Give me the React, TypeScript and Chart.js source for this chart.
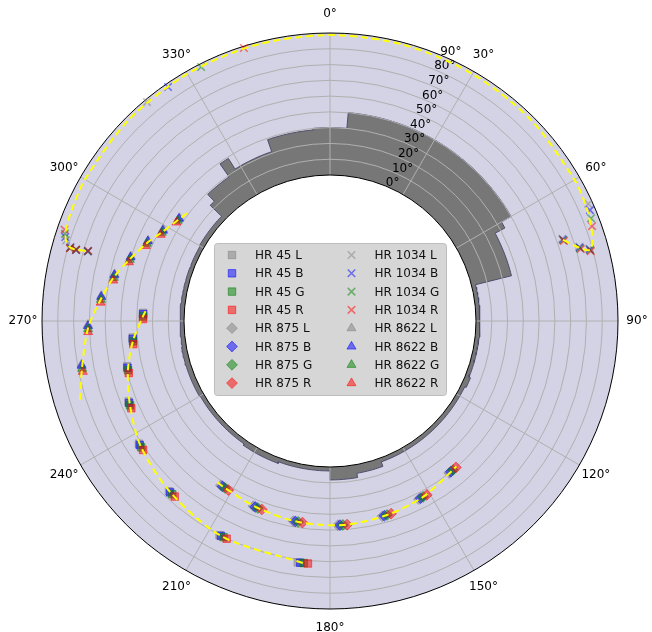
import React, { useEffect, useRef } from 'react';
import { Chart, registerables } from 'chart.js';
import { drawPoint } from 'chart.js/helpers';
Chart.register(...registerables);

// ---------------- data ----------------
// horizon profile histogram: azimuth bin edges (deg) and altitude heights (deg)
const horizonEdges = [0, 5, 60, 62, 76, 112, 116, 160, 170, 180, 200, 215, 240, 260, 300, 314, 316, 325, 328, 341, 355, 360];
const horizonAlt = [30, 40, 33, 26, 2.5, 3.5, 2.5, 5.5, 8.2, 2.5, 3.5, 2.5, 3, 2.5, 3, 13, 19, 29, 21, 29, 30];

const angleTicks = [0, 30, 60, 90, 120, 150, 180, 210, 240, 270, 300, 330];
const radialTicks = [0, 10, 20, 30, 40, 50, 60, 70, 80, 90];

// HR 45 (squares)
const hr45Alt = [26.0, 33.0, 39.2, 45.0, 51.4, 56.0, 60.2, 61.8];
const hr45AzL = [272.5, 265.2, 257.4, 248.2, 237.3, 223.4, 207.3, 187.6];
const hr45AzB = [272.1, 264.8, 257.0, 247.8, 236.9, 223.0, 206.9, 187.0];
const hr45AzG = [271.4, 264.1, 256.3, 247.1, 236.2, 222.3, 206.2, 186.2];
const hr45AzR = [270.6, 263.3, 255.5, 246.3, 235.4, 221.5, 205.4, 185.2];

// HR 875 (diamonds)
const hr875Alt = [32.5, 34.5, 36.4, 37.0, 35.6, 33.6, 29.9];
const hr875AzL = [213.6, 202.5, 190.4, 177.8, 165.0, 153.5, 141.9];
const hr875AzB = [213.0, 201.9, 189.8, 177.2, 164.4, 152.9, 141.3];
const hr875AzG = [212.2, 201.1, 189.0, 176.4, 163.6, 152.1, 140.5];
const hr875AzR = [211.0, 199.9, 187.8, 175.2, 162.4, 150.9, 139.3];

// HR 1034 (crosses)
const hr1034AzL = [70.5, 73.4, 74.4, 65.6, 320.1, 287.0, 286.0, 285.6, 285.9];
const hr1034AltL = [63.6, 72.3, 78.1, 87.2, 88.3, 82.3, 67.3, 74.6, 78.4];
const hr1034AzB = [70.7, 73.6, 74.6, 66.9, 325.3, 287.6, 286.1, 285.6, 285.8];
const hr1034AltB = [63.8, 72.4, 78.2, 86.6, 87.8, 83.5, 67.2, 74.6, 78.5];
const hr1034AzG = [70.9, 73.8, 74.8, 68.5, 333.1, 288.2, 286.1, 285.7, 285.7];
const hr1034AltG = [64.0, 72.6, 78.4, 85.3, 88.0, 84.3, 67.1, 74.6, 78.6];
const hr1034AzR = [71.1, 74.0, 75.0, 70.1, 342.5, 289.0, 286.2, 285.7, 285.6];
const hr1034AltR = [64.2, 72.8, 78.6, 84.1, 88.9, 85.4, 67.0, 74.6, 78.7];

// HR 8622 (triangles)
const hr8622Alt = [23.1, 27.9, 33.5, 40.2, 47.2, 53.3, 60.9, 67.4];
const hr8622AzL = [304.4, 298.7, 293.9, 288.0, 282.3, 276.3, 269.1, 260.1];
const hr8622AzB = [304.1, 298.4, 293.6, 287.7, 282.0, 276.0, 268.8, 259.8];
const hr8622AzG = [303.4, 297.7, 292.9, 287.0, 281.3, 275.3, 268.1, 259.1];
const hr8622AzR = [302.7, 297.0, 292.2, 286.3, 280.6, 274.6, 267.4, 258.4];

// model tracks (yellow dashed)
const track1034Az = [70.8, 73.7, 74.7, 73.0, 70.5, 66, 60, 45, 30, 15, 0, 345, 330, 315, 300, 293, 289, 287, 285.8, 285.7, 286.1];
const track1034Alt = [63.8, 72.5, 78.3, 81.5, 83.2, 85.3, 86.4, 87.6, 88.2, 88.6, 88.7, 88.6, 88.3, 87.8, 86.8, 85.6, 84.5, 82.5, 78.6, 74.6, 67.0];
const track8622Az = [307, 303.6, 297.9, 293.1, 287.2, 281.5, 275.5, 268.3, 259.3, 252.5];
const track8622Alt = [21, 23.1, 27.9, 33.5, 40.2, 47.2, 53.3, 60.9, 67.4, 73.6];
const track45Az = [273, 271.5, 264.2, 256.4, 247.2, 236.3, 222.4, 206.3, 186.4];
const track45Alt = [24.5, 26, 33, 39.2, 45, 51.4, 56, 60.2, 61.8];
const track875Az = [215, 212.2, 201.1, 189.0, 176.4, 163.6, 152.1, 140.5, 139];
const track875Alt = [32.1, 32.5, 34.5, 36.4, 37.0, 35.6, 33.6, 29.9, 29.5];

const filterColors: Record<string, string> = {
  L: 'rgba(128,128,128,0.5)',
  B: 'rgba(0,0,255,0.5)',
  G: 'rgba(0,128,0,0.5)',
  R: 'rgba(255,0,0,0.5)',
};

// ---------------- layout ----------------
const W = 652, H = 632;
const CX = 330, CY = 321, R_OUT = 288, R_IN = 146;
const FRAC_IN = R_IN / R_OUT;
const BG = '#d3d3e5';
const GRID = '#b0b0b0';
const FONT = '12px "DejaVu Sans", sans-serif';
const D2R = Math.PI / 180;

function toXY(az: number, alt: number) {
  const rr = FRAC_IN + (1 - FRAC_IN) * alt / 90;
  return { x: rr * Math.sin(az * D2R), y: rr * Math.cos(az * D2R) };
}

function histPoints() {
  const pts: { x: number; y: number }[] = [];
  for (let i = 0; i < horizonAlt.length; i++) {
    const a0 = horizonEdges[i], a1 = horizonEdges[i + 1];
    const n = Math.max(1, Math.ceil(a1 - a0));
    for (let k = 0; k <= n; k++) pts.push(toXY(a0 + (a1 - a0) * k / n, horizonAlt[i]));
  }
  return pts;
}

type Series = { label: string; style: string; color: string; az: number[]; alt: number[] };
const series: Series[] = [
  { label: 'HR 45 L', style: 'rect', color: filterColors.L, az: hr45AzL, alt: hr45Alt },
  { label: 'HR 45 B', style: 'rect', color: filterColors.B, az: hr45AzB, alt: hr45Alt },
  { label: 'HR 45 G', style: 'rect', color: filterColors.G, az: hr45AzG, alt: hr45Alt },
  { label: 'HR 45 R', style: 'rect', color: filterColors.R, az: hr45AzR, alt: hr45Alt },
  { label: 'HR 875 L', style: 'rectRot', color: filterColors.L, az: hr875AzL, alt: hr875Alt },
  { label: 'HR 875 B', style: 'rectRot', color: filterColors.B, az: hr875AzB, alt: hr875Alt },
  { label: 'HR 875 G', style: 'rectRot', color: filterColors.G, az: hr875AzG, alt: hr875Alt },
  { label: 'HR 875 R', style: 'rectRot', color: filterColors.R, az: hr875AzR, alt: hr875Alt },
  { label: 'HR 1034 L', style: 'crossRot', color: filterColors.L, az: hr1034AzL, alt: hr1034AltL },
  { label: 'HR 1034 B', style: 'crossRot', color: filterColors.B, az: hr1034AzB, alt: hr1034AltB },
  { label: 'HR 1034 G', style: 'crossRot', color: filterColors.G, az: hr1034AzG, alt: hr1034AltG },
  { label: 'HR 1034 R', style: 'crossRot', color: filterColors.R, az: hr1034AzR, alt: hr1034AltR },
  { label: 'HR 8622 L', style: 'triangle', color: filterColors.L, az: hr8622AzL, alt: hr8622Alt },
  { label: 'HR 8622 B', style: 'triangle', color: filterColors.B, az: hr8622AzB, alt: hr8622Alt },
  { label: 'HR 8622 G', style: 'triangle', color: filterColors.G, az: hr8622AzG, alt: hr8622Alt },
  { label: 'HR 8622 R', style: 'triangle', color: filterColors.R, az: hr8622AzR, alt: hr8622Alt },
];
const tracks = [
  { az: track1034Az, alt: track1034Alt },
  { az: track8622Az, alt: track8622Alt },
  { az: track45Az, alt: track45Alt },
  { az: track875Az, alt: track875Alt },
];
const MARKER_R: Record<string, number> = { rect: 5.3, rectRot: 5.4, crossRot: 5.3, triangle: 5.2 };

function geom(chart: any) {
  const xs = chart.scales.x, ys = chart.scales.y;
  const cx = xs.getPixelForValue(0), cy = ys.getPixelForValue(0);
  const rOut = xs.getPixelForValue(1) - cx;
  const rIn = rOut * FRAC_IN;
  return { cx, cy, rOut, rIn };
}

const polarPlugin = {
  id: 'polarFrame',
  beforeDatasetsDraw(chart: any) {
    const ctx = chart.ctx;
    const { cx, cy, rOut } = geom(chart);
    ctx.save();
    ctx.fillStyle = BG;
    ctx.beginPath();
    ctx.arc(cx, cy, rOut, 0, Math.PI * 2);
    ctx.fill();
    // angle labels
    ctx.fillStyle = '#000';
    ctx.font = FONT;
    ctx.textAlign = 'center';
    ctx.textBaseline = 'middle';
    for (const a of angleTicks) {
      const rr = rOut + 19;
      ctx.fillText(a + '°', cx + rr * Math.sin(a * D2R), cy - rr * Math.cos(a * D2R));
    }
    ctx.restore();
  },
  afterDatasetDraw(chart: any, args: any) {
    if (args.index !== 0) return;
    const ctx = chart.ctx;
    const { cx, cy, rOut, rIn } = geom(chart);
    ctx.save();
    // hole
    ctx.fillStyle = '#ffffff';
    ctx.beginPath();
    ctx.arc(cx, cy, rIn, 0, Math.PI * 2);
    ctx.fill();
    // grid
    ctx.strokeStyle = GRID;
    ctx.lineWidth = 1;
    for (const t of radialTicks) {
      if (t === 0 || t === 90) continue;
      const rr = rIn + (rOut - rIn) * t / 90;
      ctx.beginPath();
      ctx.arc(cx, cy, rr, 0, Math.PI * 2);
      ctx.stroke();
    }
    for (const a of angleTicks) {
      const s = Math.sin(a * D2R), c = Math.cos(a * D2R);
      ctx.beginPath();
      ctx.moveTo(cx + rIn * s, cy - rIn * c);
      ctx.lineTo(cx + rOut * s, cy - rOut * c);
      ctx.stroke();
    }
    // spines
    ctx.strokeStyle = '#000';
    ctx.lineWidth = 1;
    ctx.beginPath();
    ctx.arc(cx, cy, rOut, 0, Math.PI * 2);
    ctx.stroke();
    ctx.beginPath();
    ctx.arc(cx, cy, rIn, 0, Math.PI * 2);
    ctx.stroke();
    // radial labels
    ctx.fillStyle = '#000';
    ctx.font = FONT;
    ctx.textAlign = 'left';
    ctx.textBaseline = 'alphabetic';
    for (const t of radialTicks) {
      const rr = rIn + (rOut - rIn) * t / 90;
      ctx.fillText(t + '°', cx + rr * Math.sin(22.5 * D2R), cy - rr * Math.cos(22.5 * D2R));
    }
    ctx.restore();
  },
  afterDatasetsDraw(chart: any) {
    const ctx = chart.ctx;
    const { cx, cy } = geom(chart);
    ctx.save();
    const left = cx - 116, top = cy - 78, w = 232, h = 152;
    ctx.fillStyle = 'rgba(214,214,214,1)';
    ctx.strokeStyle = '#bdbdbd';
    ctx.lineWidth = 1;
    ctx.beginPath();
    (ctx as any).roundRect(left + 0.5, top + 0.5, w, h, 3);
    ctx.fill();
    ctx.stroke();
    ctx.font = FONT;
    ctx.textAlign = 'left';
    ctx.textBaseline = 'middle';
    series.forEach((s, i) => {
      const col = Math.floor(i / 8), row = i % 8;
      const y = top + 12 + row * 18.3;
      const mx = left + 18 + col * 119.5;
      const tx = left + 41 + col * 119.5;
      ctx.fillStyle = s.color;
      ctx.strokeStyle = s.color;
      ctx.lineWidth = s.style === 'crossRot' ? 1.5 : 1;
      drawPoint(ctx, { pointStyle: s.style as any, radius: MARKER_R[s.style], rotation: 0, borderWidth: ctx.lineWidth }, mx, y);
      ctx.fillStyle = '#111';
      ctx.fillText(s.label, tx, y + 1);
    });
    ctx.restore();
  },
};

export default function App() {
  const ref = useRef<HTMLCanvasElement>(null);
  useEffect(() => {
    if (!ref.current) return;
    const datasets: any[] = [];
    datasets.push({
      label: 'horizon',
      data: histPoints(),
      showLine: true,
      pointRadius: 0,
      fill: 'shape',
      backgroundColor: '#777777',
      borderColor: 'rgba(70,70,105,0.9)',
      borderWidth: 1,
      tension: 0,
      order: 1000,
    });
    tracks.forEach((t) => {
      datasets.push({
        label: 'track',
        data: t.az.map((a, i) => toXY(a, t.alt[i])),
        showLine: true,
        pointRadius: 0,
        borderColor: '#ffff00',
        borderWidth: 2,
        borderDash: [7, 4],
        tension: 0.3,
        fill: false,
        order: 0,
      });
    });
    series.forEach((s, i) => {
      datasets.push({
        label: s.label,
        data: s.az.map((a, k) => toXY(a, s.alt[k])),
        showLine: false,
        pointStyle: s.style,
        pointRadius: MARKER_R[s.style],
        backgroundColor: s.color,
        borderColor: s.color,
        borderWidth: s.style === 'crossRot' ? 1.5 : 1,
        order: 100 - i,
      });
    });
    const chart = new Chart(ref.current, {
      type: 'scatter',
      data: { datasets },
      options: {
        responsive: false,
        animation: false,
        layout: { padding: 0, autoPadding: false },
        plugins: { legend: { display: false }, tooltip: { enabled: false } },
        scales: {
          x: { type: 'linear', display: false, min: -CX / R_OUT, max: (W - CX) / R_OUT },
          y: { type: 'linear', display: false, min: -(H - CY) / R_OUT, max: CY / R_OUT },
        },
      },
      plugins: [polarPlugin],
    });
    return () => chart.destroy();
  }, []);
  return (
    <div style={{ position: 'absolute', left: 0, top: 0, width: W, height: H, background: '#fff' }}>
      <canvas ref={ref} width={W} height={H} style={{ display: 'block', width: W, height: H }} />
    </div>
  );
}
